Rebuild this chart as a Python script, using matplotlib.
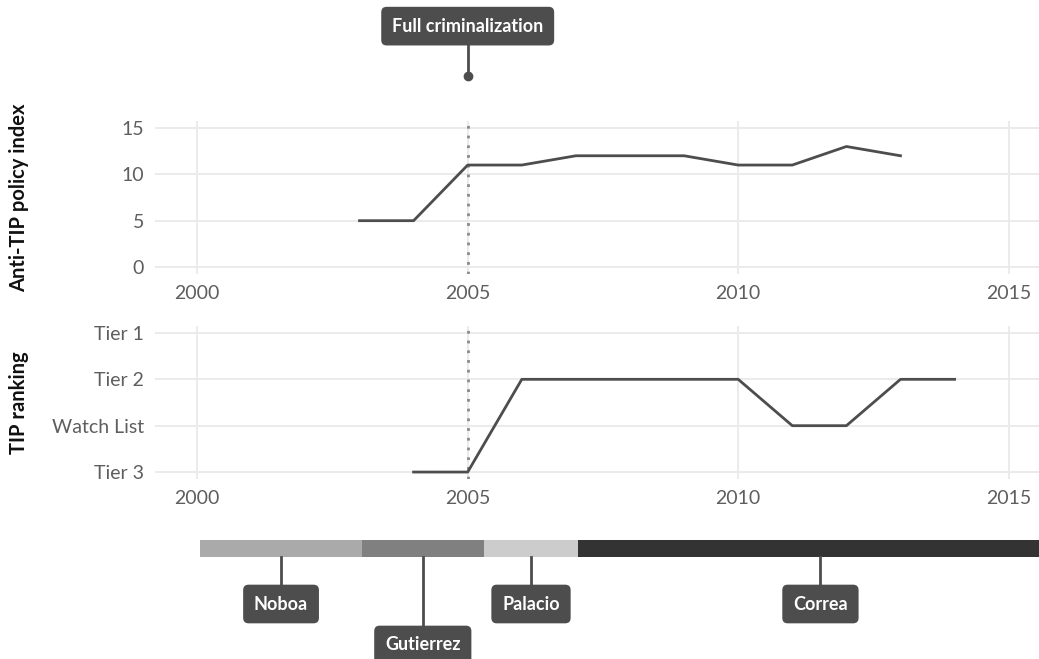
import matplotlib
matplotlib.use("Agg")
import matplotlib.pyplot as plt
import matplotlib.transforms as mtransforms
import numpy as np

# data
policy_years = [2003, 2004, 2005, 2006, 2007, 2008, 2009, 2010, 2011, 2012, 2013]
policy_index = [5, 5, 11, 11, 12, 12, 12, 11, 11, 13, 12]

tip_years = [2004, 2005, 2006, 2007, 2008, 2009, 2010, 2011, 2012, 2013, 2014]
tip_rank = [1, 1, 3, 3, 3, 3, 3, 2, 2, 3, 3]   # 1 = Tier 3 ... 4 = Tier 1
tip_labels = ["Tier 3", "Watch List", "Tier 2", "Tier 1"]

presidents = ["Noboa", "Gutierrez", "Palacio", "Correa"]
pres_start = [2000.06, 2003.04, 2005.30, 2007.04]
pres_end = [2003.04, 2005.30, 2007.04, 2016.0]
pres_colors = ["#aaaaaa", "#808080", "#cccccc", "#333333"]

event_year = 2005
event_label = "Full criminalization"

x_ticks = [2000, 2005, 2010, 2015]

plt.rcParams["font.family"] = ["Lato", "DejaVu Sans"]

W, H = 1039, 659
fig = plt.figure(figsize=(W / 100, H / 100), dpi=100)

def px_axes(x0, y0, x1, y1):
    return fig.add_axes([x0 / W, 1 - y1 / H, (x1 - x0) / W, (y1 - y0) / H])

line_col = "#4d4d4d"
grid_col = "#ebebeb"
tick_col = "#5e5e5e"
xlim = (1999.22, 2015.56)

ax1 = px_axes(155, 121, 1039, 274)
ax2 = px_axes(155, 326, 1039, 479)

for ax in (ax1, ax2):
    ax.set_xlim(*xlim)
    ax.set_xticks(x_ticks)
    ax.grid(True, color=grid_col, lw=1.4)
    ax.set_axisbelow(True)
    for s in ax.spines.values():
        s.set_visible(False)
    ax.tick_params(length=0, labelsize=14, labelcolor=tick_col, pad=8)
    ax.axvline(event_year, color="#8a8a8a", ls=(0, (1, 2.5)), lw=2, zorder=2)

ax1.plot(policy_years, policy_index, color=line_col, lw=2, zorder=3)
ax1.set_ylim(-0.75, 15.75)
ax1.set_yticks([0, 5, 10, 15])
ax1.set_ylabel("Anti-TIP policy index", fontsize=14.5, fontweight="bold", color="#111111")
ax1.yaxis.set_label_coords(-0.1425, 0.5)

ax2.plot(tip_years, tip_rank, color=line_col, lw=2, zorder=3)
ax2.set_ylim(0.85, 4.15)
ax2.set_yticks(range(1, len(tip_labels) + 1))
ax2.set_yticklabels(tip_labels)
ax2.set_ylabel("TIP ranking", fontsize=14.5, fontweight="bold", color="#111111")
ax2.yaxis.set_label_coords(-0.1425, 0.5)

box = dict(boxstyle="round,pad=0.6,rounding_size=0.3", fc=line_col, ec="none")

# event annotation above the top panel
trans = mtransforms.blended_transform_factory(ax1.transData, ax1.transAxes)
ax1.plot([event_year, event_year], [1.295, 1.56], transform=trans, color=line_col,
         lw=2, clip_on=False)
ax1.plot([event_year], [1.295], "o", ms=6, color=line_col, transform=trans, clip_on=False)
ax1.text(event_year, 1.62, event_label, transform=trans, ha="center", va="center",
         color="white", fontsize=13, fontweight="bold", bbox=box, clip_on=False)

# presidents timeline
ax3 = px_axes(155, 530, 1039, 659)
ax3.set_xlim(*xlim)
ax3.set_ylim(659, 530)
ax3.axis("off")
label_y = [604, 645, 604, 604]
for name, s, e, c, ly in zip(presidents, pres_start, pres_end, pres_colors, label_y):
    ax3.fill_between([s, e], 540, 557, color=c, lw=0)
    mid = (s + e) / 2
    ax3.plot([mid, mid], [557, ly - 12], color=line_col, lw=2)
    ax3.text(mid, ly, name, ha="center", va="center", color="white", fontsize=13,
             fontweight="bold", bbox=box, clip_on=False)

fig.savefig("out.png", dpi=100)
